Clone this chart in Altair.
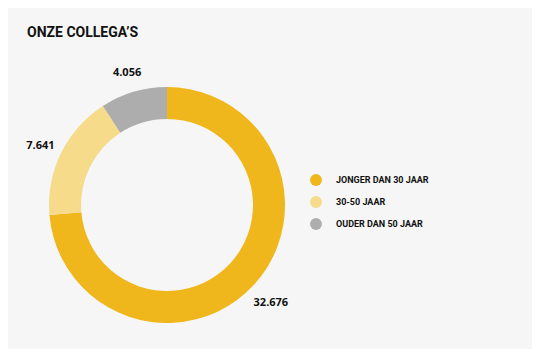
import altair as alt
import pandas as pd

categories = ["JONGER DAN 30 JAAR", "30-50 JAAR", "OUDER DAN 50 JAAR"]
values = [32676, 7641, 4056]
labels = ["32.676", "7.641", "4.056"]
colors = ["#efb71b", "#f6db8b", "#adadad"]

df = pd.DataFrame({"cat": categories, "value": values, "label": labels,
                   "order": list(range(len(categories)))})

CX, CY = 159, 197

base = alt.Chart(df).encode(
    theta=alt.Theta("value:Q", stack=True),
    order=alt.Order("order:Q"),
)

arcs = base.mark_arc(outerRadius=118, innerRadius=86, stroke=None).encode(
    x=alt.value(CX), y=alt.value(CY),
    color=alt.Color("cat:N", sort=categories,
                    scale=alt.Scale(domain=categories, range=colors),
                    legend=alt.Legend(title=None, orient="none", legendX=302, legendY=166,
                                      symbolType="circle", symbolSize=140,
                                      symbolStrokeWidth=0,
                                      labelFont="Roboto", labelFontWeight="bold",
                                      labelFontSize=9, labelColor="#111111",
                                      rowPadding=10, labelOffset=14)),
)

texts = base.mark_text(radius=141, font="Open Sans", fontWeight="bold", fontSize=11,
                       color="#111111").encode(
    x=alt.value(CX), y=alt.value(CY + 3),
    text="label:N",
)

title = alt.Chart(pd.DataFrame({"t": ["ONZE COLLEGA\u2019S"]})).mark_text(
    align="left", baseline="middle", font="Roboto", fontWeight="bold",
    fontSize=14, color="#111111"
).encode(x=alt.value(19), y=alt.value(25), text="t:N")

chart = alt.layer(arcs, texts, title).properties(
    width=524, height=341,
    autosize=alt.AutoSizeParams(type="none"),
    padding=0,
    background="#f6f6f6",
).configure_view(stroke=None)

chart.save("out.html", embed_options={"renderer": "svg", "actions": False})
